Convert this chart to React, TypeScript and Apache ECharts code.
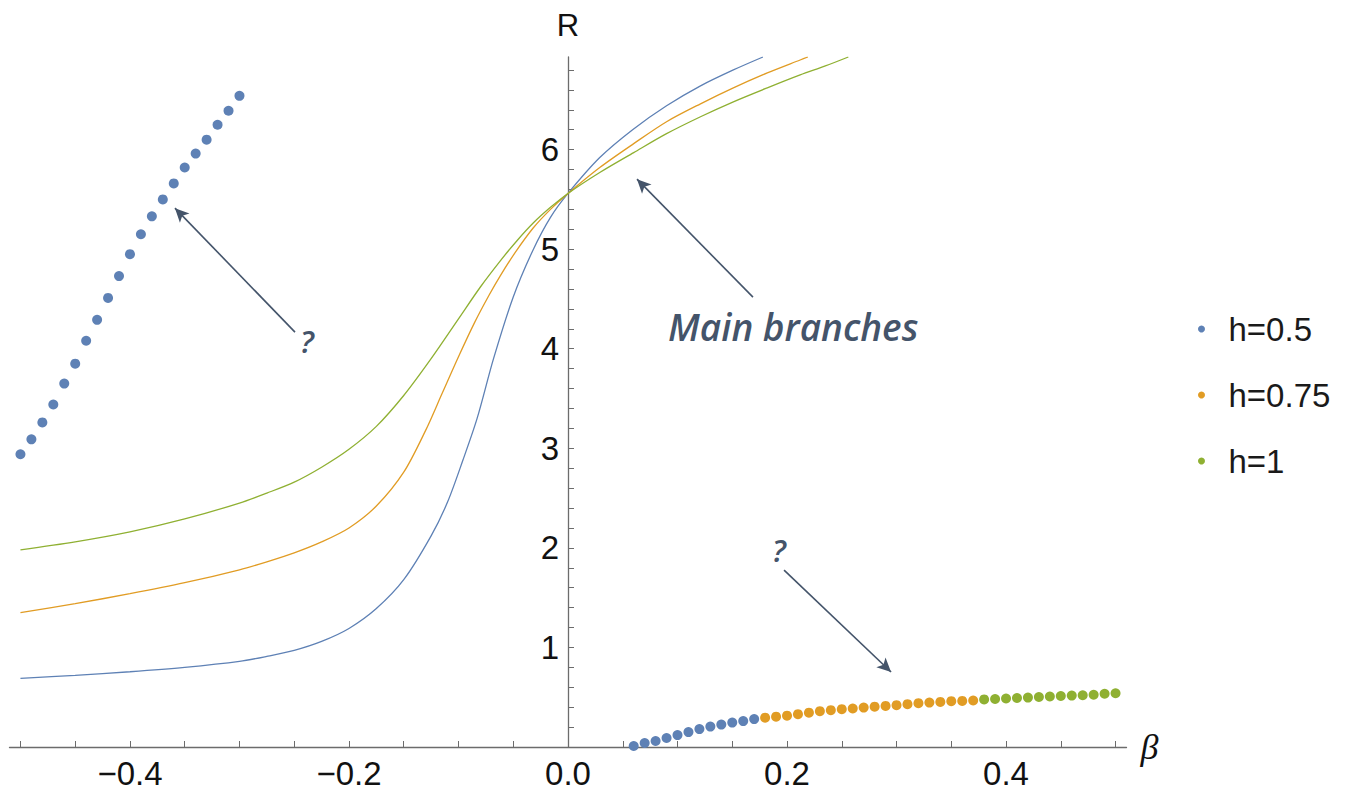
import React, { useEffect, useRef } from "react";
import * as echarts from "echarts";

// ---- Main branches (lines) ----
const blueBeta = [-0.5, -0.45, -0.4, -0.35, -0.3, -0.275, -0.25, -0.225, -0.2, -0.175, -0.15, -0.125, -0.11, -0.096, -0.083, -0.068, -0.05, -0.032, -0.016, 0, 0.029, 0.059, 0.09, 0.121, 0.151, 0.178];
const blueR = [0.69, 0.72, 0.756, 0.8, 0.86, 0.91, 0.97, 1.06, 1.19, 1.39, 1.68, 2.12, 2.46, 2.88, 3.3, 3.9, 4.52, 4.99, 5.32, 5.56, 5.92, 6.2, 6.44, 6.64, 6.8, 6.93];

const orangeBeta = [-0.5, -0.45, -0.4, -0.35, -0.3, -0.275, -0.25, -0.225, -0.2, -0.175, -0.15, -0.13, -0.115, -0.1, -0.085, -0.072, -0.062, -0.048, -0.032, -0.016, 0, 0.029, 0.06, 0.09, 0.121, 0.151, 0.182, 0.212, 0.219];
const orangeR = [1.35, 1.44, 1.54, 1.65, 1.78, 1.86, 1.95, 2.06, 2.2, 2.42, 2.76, 3.18, 3.55, 3.92, 4.27, 4.54, 4.73, 4.97, 5.21, 5.4, 5.56, 5.82, 6.06, 6.28, 6.46, 6.62, 6.77, 6.9, 6.93];

const greenBeta = [-0.5, -0.45, -0.4, -0.35, -0.3, -0.275, -0.25, -0.225, -0.2, -0.175, -0.15, -0.125, -0.1, -0.08, -0.062, -0.047, -0.032, -0.016, 0, 0.029, 0.06, 0.09, 0.121, 0.151, 0.182, 0.212, 0.235, 0.256];
const greenR = [1.98, 2.06, 2.16, 2.29, 2.45, 2.55, 2.66, 2.81, 2.99, 3.22, 3.53, 3.9, 4.3, 4.62, 4.88, 5.08, 5.26, 5.42, 5.56, 5.77, 5.97, 6.16, 6.33, 6.48, 6.62, 6.75, 6.84, 6.93];

// ---- "?" branches (dots) ----
const leftDotBeta = [-0.5, -0.49, -0.48, -0.47, -0.46, -0.45, -0.44, -0.43, -0.42, -0.41, -0.4, -0.39, -0.38, -0.37, -0.36, -0.35, -0.34, -0.33, -0.32, -0.31, -0.3];
const leftDotR = [2.94, 3.09, 3.26, 3.44, 3.65, 3.85, 4.08, 4.29, 4.51, 4.73, 4.95, 5.15, 5.33, 5.5, 5.66, 5.82, 5.96, 6.1, 6.25, 6.39, 6.54];

const blueDotBeta = [0.06, 0.07, 0.08, 0.09, 0.1, 0.11, 0.12, 0.13, 0.14, 0.15, 0.16, 0.17];
const blueDotR = [0.01, 0.04, 0.06, 0.09, 0.12, 0.15, 0.18, 0.205, 0.225, 0.245, 0.26, 0.28];

const orangeDotBeta = [0.18, 0.19, 0.2, 0.21, 0.22, 0.23, 0.24, 0.25, 0.26, 0.27, 0.28, 0.29, 0.3, 0.31, 0.32, 0.33, 0.34, 0.35, 0.36, 0.37];
const orangeDotR = [0.295, 0.305, 0.315, 0.33, 0.345, 0.36, 0.37, 0.38, 0.387, 0.396, 0.405, 0.413, 0.42, 0.43, 0.44, 0.446, 0.453, 0.46, 0.463, 0.467];

const greenDotBeta = [0.38, 0.39, 0.4, 0.41, 0.42, 0.43, 0.44, 0.45, 0.46, 0.47, 0.48, 0.49, 0.5];
const greenDotR = [0.478, 0.482, 0.487, 0.492, 0.496, 0.502, 0.507, 0.512, 0.516, 0.52, 0.525, 0.535, 0.54];

// ---- Axis ticks ----
const xLabelValues = [-0.4, -0.2, 0, 0.2, 0.4];
const xTickValues = [-0.5, -0.45, -0.4, -0.35, -0.3, -0.25, -0.2, -0.15, -0.1, -0.05, 0, 0.05, 0.1, 0.15, 0.2, 0.25, 0.3, 0.35, 0.4, 0.45, 0.5];
const yLabelValues = [1, 2, 3, 4, 5, 6];
const yTickValues = Array.from({ length: 34 }, (_, i) => Math.round((i + 1) * 0.2 * 10) / 10);

const seriesNames = ["h=0.5", "h=0.75", "h=1"];
const colors = ["#5E81B5", "#E19C24", "#8FB032"];
const annColor = "#44546A";

const zip = (a: number[], b: number[]) => a.map((v, i) => [v, b[i]]);

// layout
const GRID_LEFT = 9.5;
const GRID_WIDTH = 1117;
const X_MIN = -0.51;
const X_MAX = 0.51;

export default function App() {
  const ref = useRef<HTMLDivElement>(null);
  useEffect(() => {
    if (!ref.current) return;
    const chart = echarts.init(ref.current, null, { renderer: "svg" });
    const axisFont = "Liberation Sans";
    const yAxisOffset = -((0 - X_MIN) / (X_MAX - X_MIN)) * GRID_WIDTH;
    const lineSeries = (name: string, color: string, data: number[][]) => ({
      type: "line",
      name,
      data,
      smooth: 0.3,
      showSymbol: false,
      symbol: "none",
      lineStyle: { color, width: 1.3 },
      itemStyle: { color },
      z: 3,
    });
    const dotSeries = (name: string, color: string, data: number[][]) => ({
      type: "scatter",
      name,
      data,
      symbolSize: 10,
      itemStyle: { color, opacity: 1 },
      z: 4,
    });
    const annText = (text: string, left: number, top: number, size: number) => ({
      type: "text",
      left,
      top,
      style: { text, fontFamily: "Open Sans", fontStyle: "italic", fontWeight: 600, fontSize: size, fill: annColor },
    });
    chart.setOption({
      animation: false,
      backgroundColor: "#ffffff",
      grid: { left: GRID_LEFT, width: GRID_WIDTH, top: 57, height: 690, containLabel: false, outerBoundsMode: "none" },
      legend: {
        orient: "vertical",
        left: 1193,
        top: 304,
        data: seriesNames,
        icon: "circle",
        itemWidth: 44,
        itemHeight: 7,
        itemGap: 26,
        textStyle: { fontFamily: axisFont, fontSize: 33, color: "#1a1a1a", lineHeight: 40 },
      },
      xAxis: {
        type: "value",
        min: X_MIN,
        max: X_MAX,
        name: "β",
        nameLocation: "end",
        nameGap: 14,
        nameTextStyle: { fontFamily: "Liberation Serif", fontStyle: "italic", fontSize: 36, color: "#111" },
        axisLine: { onZero: false, lineStyle: { color: "#6c6c6c", width: 1.3 } },
        axisTick: { show: true, inside: true, length: 6, customValues: xTickValues, lineStyle: { color: "#6c6c6c", width: 1 } },
        axisLabel: {
          customValues: xLabelValues,
          margin: 10,
          fontFamily: axisFont,
          fontSize: 33,
          color: "#111",
          formatter: (v: number) => (Math.abs(v) < 1e-9 ? "0.0" : (v < 0 ? "\u2212" : "") + Math.abs(v).toFixed(1)),
        },
        splitLine: { show: false },
      },
      yAxis: {
        type: "value",
        min: 0,
        max: 6.93,
        position: "left",
        offset: yAxisOffset,
        name: "R",
        nameLocation: "end",
        nameGap: 16,
        nameTextStyle: { fontFamily: axisFont, fontSize: 31, color: "#111" },
        axisLine: { onZero: false, lineStyle: { color: "#6c6c6c", width: 1.3 } },
        axisTick: { show: true, inside: true, length: 6, customValues: yTickValues, lineStyle: { color: "#6c6c6c", width: 1 } },
        axisLabel: {
          customValues: yLabelValues,
          margin: 9,
          fontFamily: axisFont,
          fontSize: 33,
          color: "#111",
          formatter: (v: number) => String(v),
        },
        splitLine: { show: false },
      },
      series: [
        lineSeries(seriesNames[0], colors[0], zip(blueBeta, blueR)),
        lineSeries(seriesNames[1], colors[1], zip(orangeBeta, orangeR)),
        lineSeries(seriesNames[2], colors[2], zip(greenBeta, greenR)),
        dotSeries(seriesNames[0], colors[0], zip(leftDotBeta, leftDotR)),
        dotSeries(seriesNames[0], colors[0], zip(blueDotBeta, blueDotR)),
        dotSeries(seriesNames[1], colors[1], zip(orangeDotBeta, orangeDotR)),
        dotSeries(seriesNames[2], colors[2], zip(greenDotBeta, greenDotR)),
        {
          type: "scatter",
          name: "annotations",
          data: [],
          silent: true,
          markLine: {
            silent: true,
            symbol: ["none", "arrow"],
            symbolSize: [10, 14],
            label: { show: false },
            lineStyle: { color: annColor, width: 1.6, type: "solid" },
            data: [
              [{ coord: [-0.2493, 4.167] }, { coord: [-0.3589, 5.412] }],
              [{ coord: [0.1689, 4.518] }, { coord: [0.063, 5.703] }],
              [{ coord: [0.1973, 1.777] }, { coord: [0.295, 0.753] }],
            ],
          },
        },
      ],
      graphic: [
        annText("Main branches", 668, 308, 37),
        annText("?", 300, 325, 31),
        annText("?", 772, 534, 31),
      ],
    });
    return () => chart.dispose();
  }, []);
  return <div ref={ref} style={{ position: "absolute", left: 0, top: 0, width: 1354, height: 793 }} />;
}
